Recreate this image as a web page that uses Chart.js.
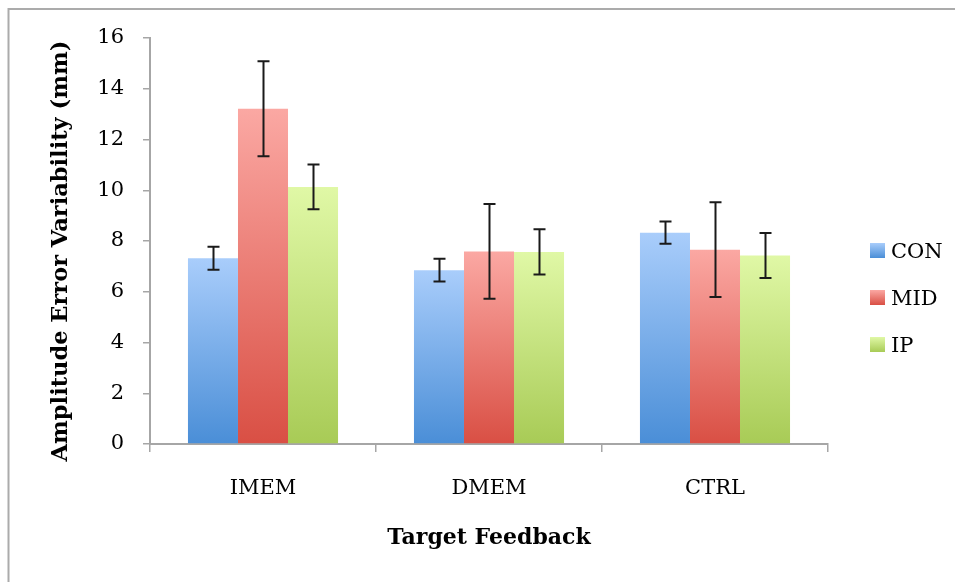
<!DOCTYPE html>
<html><head><meta charset="utf-8">
<script src="https://cdn.jsdelivr.net/npm/chart.js@4"></script>
<style>html,body{margin:0;padding:0;background:#fff}#wrap{width:955px;height:582px;position:relative}</style>
</head><body><div id="wrap"><canvas id="c" width="955" height="582"></canvas></div>
<script>
const categories = ['IMEM', 'DMEM', 'CTRL'];
const seriesNames = ['CON', 'MID', 'IP'];
const conValues = [7.32, 6.85, 8.33];
const midValues = [13.21, 7.59, 7.66];
const ipValues = [10.13, 7.57, 7.43];
const conErrors = [0.45, 0.45, 0.44];
const midErrors = [1.87, 1.87, 1.87];
const ipErrors = [0.88, 0.89, 0.89];
const yTickValues = [0, 2, 4, 6, 8, 10, 12, 14, 16];
const yTitle = 'Amplitude Error Variability (mm)';
const xTitle = 'Target Feedback';

const SERIF = "'DejaVu Serif', 'Liberation Serif', serif";
const topColors = ['#a9cdfb', '#fba8a3', '#e0f8a6'];
const bottomColors = ['#4a8ed7', '#d94f44', '#a8cb56'];

function gradFill(i) {
  return (ctx) => {
    const chart = ctx.chart;
    const ca = chart.chartArea;
    if (!ca || ctx.type !== 'data') return bottomColors[i];
    const y = chart.scales.y;
    const y0 = y.getPixelForValue(ctx.raw);
    const y1 = y.getPixelForValue(0);
    if (!isFinite(y0) || !isFinite(y1) || y0 === y1) return bottomColors[i];
    const g = chart.ctx.createLinearGradient(0, y0, 0, y1);
    g.addColorStop(0, topColors[i]);
    g.addColorStop(1, bottomColors[i]);
    return g;
  };
}

const valueSets = [conValues, midValues, ipValues];
const errorSets = [conErrors, midErrors, ipErrors];

const datasets = seriesNames.map((name, i) => ({
  label: name,
  data: valueSets[i],
  errors: errorSets[i],
  backgroundColor: gradFill(i),
  borderWidth: 0,
  categoryPercentage: 0.664,
  barPercentage: 1.0
}));

const framePlugin = {
  id: 'frame',
  beforeDraw(chart) {
    const c = chart.ctx;
    c.save();
    c.fillStyle = '#ffffff';
    c.fillRect(0, 0, chart.width, chart.height);
    c.strokeStyle = '#ababab';
    c.lineWidth = 2;
    c.beginPath();
    c.moveTo(8.5, chart.height);
    c.lineTo(8.5, 9);
    c.lineTo(chart.width, 9);
    c.stroke();
    c.restore();
  }
};

const errorPlugin = {
  id: 'errbars',
  afterDatasetsDraw(chart) {
    const c = chart.ctx;
    const ys = chart.scales.y;
    c.save();
    c.strokeStyle = '#1a1a1a';
    c.lineWidth = 2;
    chart.data.datasets.forEach((ds, i) => {
      const meta = chart.getDatasetMeta(i);
      meta.data.forEach((bar, j) => {
        const v = ds.data[j], e = ds.errors[j];
        const x = Math.round(bar.x) + 0.5;
        const yt = ys.getPixelForValue(v + e);
        const yb = ys.getPixelForValue(v - e);
        c.beginPath();
        c.moveTo(x, yt); c.lineTo(x, yb);
        c.moveTo(x - 6, yt); c.lineTo(x + 6, yt);
        c.moveTo(x - 6, yb); c.lineTo(x + 6, yb);
        c.stroke();
      });
    });
    c.restore();
  }
};

const legendPlugin = {
  id: 'customLegend',
  afterDraw(chart) {
    const c = chart.ctx;
    c.save();
    c.font = "21px " + SERIF;
    c.textBaseline = 'middle';
    c.textAlign = 'left';
    chart.data.datasets.forEach((ds, i) => {
      const sy = 243 + i * 47;
      const g = c.createLinearGradient(0, sy, 0, sy + 15);
      g.addColorStop(0, topColors[i]);
      g.addColorStop(1, bottomColors[i]);
      c.fillStyle = g;
      c.fillRect(870, sy, 15, 15);
      c.fillStyle = '#000';
      c.fillText(ds.label, 891, sy + 10);
    });
    // y axis title
    c.font = "bold 22.5px " + SERIF;
    c.textAlign = 'center';
    c.translate(61, 251);
    c.rotate(-Math.PI / 2);
    c.fillText(yTitle, 0, 0);
    c.restore();
  }
};

new Chart(document.getElementById('c'), {
  type: 'bar',
  data: { labels: categories, datasets },
  options: {
    responsive: false,
    animation: false,
    devicePixelRatio: 1,
    layout: { padding: { top: 38, right: 127, left: 0, bottom: 0 } },
    plugins: { legend: { display: false }, tooltip: { enabled: false } },
    scales: {
      x: {
        grid: { display: true, drawOnChartArea: false, drawTicks: true, tickLength: 8, color: '#a6a6a6', lineWidth: 1.5, offset: true },
        border: { display: true, color: '#a6a6a6', width: 2 },
        ticks: { color: '#000', font: { family: SERIF, size: 21 }, padding: 24 },
        title: { display: true, text: xTitle, color: '#000', font: { family: SERIF, size: 22, weight: 'bold' }, padding: { top: 0, bottom: 31 } },
        afterFit(s) { s.height = 138; }
      },
      y: {
        min: 0, max: 16,
        afterBuildTicks(s) { s.ticks = yTickValues.map(v => ({ value: v })); },
        grid: { display: true, drawOnChartArea: false, drawTicks: true, tickLength: 7, color: '#a6a6a6', lineWidth: 1.5 },
        border: { display: true, color: '#a6a6a6', width: 2 },
        ticks: { color: '#000', font: { family: SERIF, size: 21 }, padding: 19 },
        title: { display: false, text: yTitle },
        afterFit(s) { s.width = 150; }
      }
    }
  },
  plugins: [framePlugin, errorPlugin, legendPlugin]
});
</script>
</body></html>
